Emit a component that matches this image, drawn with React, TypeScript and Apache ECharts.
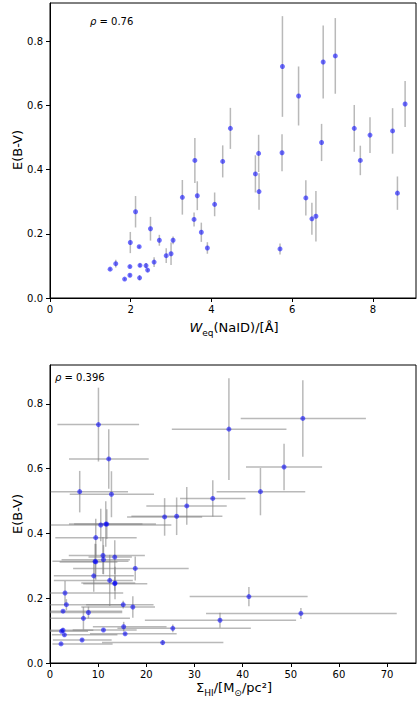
import React, { useEffect, useRef } from "react";
import * as echarts from "echarts";

// E(B-V) vs equivalent width of NaID (top) and HI surface density (bottom)
const wEq = [1.49, 1.63, 1.85, 1.98, 1.98, 1.99, 2.12, 2.21, 2.22, 2.23, 2.38, 2.42, 2.49, 2.58, 2.71, 2.88, 3.0, 3.05, 3.28, 3.57, 3.59, 3.65, 3.75, 3.9, 4.08, 4.28, 4.47, 5.09, 5.17, 5.18, 5.7, 5.75, 5.76, 6.16, 6.34, 6.49, 6.59, 6.73, 6.77, 7.07, 7.54, 7.69, 7.93, 8.49, 8.61, 8.8];
const ebv = [0.09, 0.107, 0.059, 0.071, 0.098, 0.173, 0.269, 0.16, 0.063, 0.102, 0.101, 0.087, 0.216, 0.112, 0.18, 0.132, 0.138, 0.18, 0.314, 0.245, 0.429, 0.319, 0.205, 0.156, 0.292, 0.426, 0.529, 0.387, 0.451, 0.332, 0.153, 0.453, 0.722, 0.63, 0.312, 0.247, 0.255, 0.485, 0.736, 0.755, 0.529, 0.429, 0.508, 0.521, 0.327, 0.605];
const ebvErr = [0.004, 0.012, 0.004, 0.005, 0.004, 0.033, 0.049, 0.004, 0.008, 0.005, 0.008, 0.005, 0.037, 0.015, 0.017, 0.023, 0.035, 0.012, 0.054, 0.022, 0.07, 0.045, 0.03, 0.018, 0.037, 0.05, 0.064, 0.058, 0.058, 0.057, 0.017, 0.058, 0.157, 0.092, 0.055, 0.05, 0.079, 0.058, 0.114, 0.118, 0.073, 0.046, 0.056, 0.071, 0.052, 0.072];
const sigmaHI = [15.6, 25.5, 2.29, 6.66, 2.4, 17.2, 9.08, 2.71, 23.4, 11.1, 2.7, 3.0, 3.12, 15.3, 3.4, 35.3, 6.94, 15.2, 9.36, 13.45, 11.58, 11.1, 41.3, 7.98, 17.7, 10.54, 6.17, 9.5, 23.8, 11.0, 52.1, 26.3, 37.15, 12.2, 9.5, 13.5, 12.4, 28.4, 10.06, 52.5, 43.7, 11.8, 33.8, 12.76, 13.45, 48.6];
const sigmaLo = [8.3, 14, 0.5, 0.6, 0, 6.5, 0.8, 0, 10.8, 4.7, 0, 0.4, 0, 8.9, 0, 19.7, 0, 7.5, 0.5, 6.9, 3.95, 2.4, 29.0, 0, 4.8, 0.15, 0.15, 1.1, 16.0, 3.9, 32.4, 16.9, 25.3, 3.95, 2, 6.5, 0.8, 20.0, 1.54, 39.6, 34.6, 5, 27.0, 4.1, 8, 40.7];
const sigmaHi = [26.3, 41.7, 13, 12.8, 7.9, 21.8, 17.4, 15, 36.0, 18, 9, 14, 15.2, 24.2, 15, 51.1, 16.6, 21.5, 16.3, 20.2, 19.2, 16.6, 53.5, 15, 28.8, 25.2, 16.2, 18, 31.6, 19.7, 72.0, 35.8, 49.1, 20.5, 14, 17.7, 17.2, 36.7, 18.5, 65.6, 53.0, 22, 40.6, 21.6, 17, 56.5];

const yTicks = [0, 0.2, 0.4, 0.6, 0.8];
const xTicksTop = [0, 2, 4, 6, 8];
const xTicksBottom = [0, 10, 20, 30, 40, 50, 60, 70];
const rhoTop = "0.76";
const rhoBottom = "0.396";

const FONT = "DejaVu Sans";
const ERR = "rgba(128,128,128,0.55)";
const DOT = "rgba(0,0,255,0.7)";

export default function App() {
  const ref = useRef<HTMLDivElement>(null);
  useEffect(() => {
    if (!ref.current) return;
    const chart = echarts.init(ref.current, undefined, { renderer: "svg" });

    const axisCommon = {
      axisLine: { show: true, onZero: false, lineStyle: { color: "#000", width: 1 } },
      axisTick: { show: true, inside: false, length: 4, lineStyle: { color: "#000" } },
      splitLine: { show: false },
    };
    const yAxisDef = (gi: number) => ({
      type: "value",
      gridIndex: gi,
      min: 0,
      max: 0.92,
      ...axisCommon,
      axisTick: { ...axisCommon.axisTick, customValues: yTicks },
      axisLabel: {
        customValues: yTicks,
        formatter: (v: number) => v.toFixed(1),
        fontFamily: FONT,
        fontSize: 10,
        color: "#000",
        margin: 7,
      },
    });
    const xAxisDef = (gi: number, max: number, ticks: number[]) => ({
      type: "value",
      gridIndex: gi,
      min: 0,
      max,
      ...axisCommon,
      axisTick: { ...axisCommon.axisTick, customValues: ticks },
      axisLabel: {
        customValues: ticks,
        formatter: (v: number) => String(v),
        fontFamily: FONT,
        fontSize: 10,
        color: "#000",
        margin: 6,
      },
    });

    const topErr = wEq.map((x, i) => [x, ebv[i], ebv[i] - ebvErr[i], ebv[i] + ebvErr[i]]);
    const botErr = sigmaHI.map((x, i) => [x, ebv[i], sigmaLo[i], sigmaHi[i], ebv[i] - ebvErr[i], ebv[i] + ebvErr[i]]);

    const rich = {
      n: { fontFamily: FONT, fontSize: 13, color: "#000", lineHeight: 16, verticalAlign: "top" },
      i: { fontFamily: FONT, fontSize: 13, fontStyle: "italic", color: "#000", lineHeight: 16, verticalAlign: "top" },
      s: { fontFamily: FONT, fontSize: 9, color: "#000", lineHeight: 10, verticalAlign: "top", padding: [7, 0, 0, 0] },
      p: { fontFamily: FONT, fontSize: 10, fontStyle: "italic", color: "#000" },
      q: { fontFamily: FONT, fontSize: 10, color: "#000" },
    };

    chart.setOption({
      animation: false,
      backgroundColor: "#fff",
      grid: [
        { left: 50, top: 3, width: 366, height: 295, show: true, borderColor: "#000", borderWidth: 1, backgroundColor: "transparent" },
        { left: 50, top: 365, width: 366, height: 298, show: true, borderColor: "#000", borderWidth: 1, backgroundColor: "transparent" },
      ],
      xAxis: [xAxisDef(0, 9.07, xTicksTop), xAxisDef(1, 76, xTicksBottom)],
      yAxis: [yAxisDef(0), yAxisDef(1)],
      series: [
        {
          type: "custom",
          xAxisIndex: 0,
          yAxisIndex: 0,
          clip: true,
          data: topErr,
          encode: { x: 0, y: 1 },
          renderItem: (params: any, api: any) => {
            const x = api.value(0);
            const a = api.coord([x, api.value(2)]);
            const b = api.coord([x, api.value(3)]);
            return {
              type: "line",
              shape: { x1: a[0], y1: a[1], x2: b[0], y2: b[1] },
              style: { stroke: ERR, lineWidth: 1.5 },
            };
          },
        },
        {
          type: "scatter",
          xAxisIndex: 0,
          yAxisIndex: 0,
          symbolSize: 5,
          itemStyle: { color: DOT },
          data: wEq.map((x, i) => [x, ebv[i]]),
        },
        {
          type: "custom",
          xAxisIndex: 1,
          yAxisIndex: 1,
          clip: true,
          data: botErr,
          encode: { x: 0, y: 1 },
          renderItem: (params: any, api: any) => {
            const x = api.value(0);
            const y = api.value(1);
            const h1 = api.coord([api.value(2), y]);
            const h2 = api.coord([api.value(3), y]);
            const v1 = api.coord([x, api.value(4)]);
            const v2 = api.coord([x, api.value(5)]);
            return {
              type: "group",
              children: [
                { type: "line", shape: { x1: h1[0], y1: h1[1], x2: h2[0], y2: h2[1] }, style: { stroke: ERR, lineWidth: 1.5 } },
                { type: "line", shape: { x1: v1[0], y1: v1[1], x2: v2[0], y2: v2[1] }, style: { stroke: ERR, lineWidth: 1.5 } },
              ],
            };
          },
        },
        {
          type: "scatter",
          xAxisIndex: 1,
          yAxisIndex: 1,
          symbolSize: 5,
          itemStyle: { color: DOT },
          data: sigmaHI.map((x, i) => [x, ebv[i]]),
        },
      ],
      graphic: [
        {
          type: "text",
          x: 90,
          y: 21,
          style: { text: "{p|ρ}{q| = " + rhoTop + "}", rich, align: "left", verticalAlign: "middle" },
        },
        {
          type: "text",
          x: 55,
          y: 377,
          style: { text: "{p|ρ}{q| = " + rhoBottom + "}", rich, align: "left", verticalAlign: "middle" },
        },
        {
          type: "text",
          x: 17,
          y: 150,
          rotation: Math.PI / 2,
          style: { text: "E(B-V)", fontFamily: FONT, fontSize: 13, fill: "#000", align: "center", verticalAlign: "middle" },
        },
        {
          type: "text",
          x: 17,
          y: 514,
          rotation: Math.PI / 2,
          style: { text: "E(B-V)", fontFamily: FONT, fontSize: 13, fill: "#000", align: "center", verticalAlign: "middle" },
        },
        {
          type: "text",
          x: 234,
          y: 329,
          style: { text: "{i|W}{s|eq}{n|(NaID)/[Å]}", rich, align: "center", verticalAlign: "middle" },
        },
        {
          type: "text",
          x: 234,
          y: 689,
          style: { text: "{n|Σ}{s|HI}{n|/[M}{s|⊙}{n|/pc²]}", rich, align: "center", verticalAlign: "middle" },
        },
      ],
    });
    return () => chart.dispose();
  }, []);
  return <div ref={ref} style={{ position: "fixed", left: 0, top: 0, width: 417, height: 706 }} />;
}
